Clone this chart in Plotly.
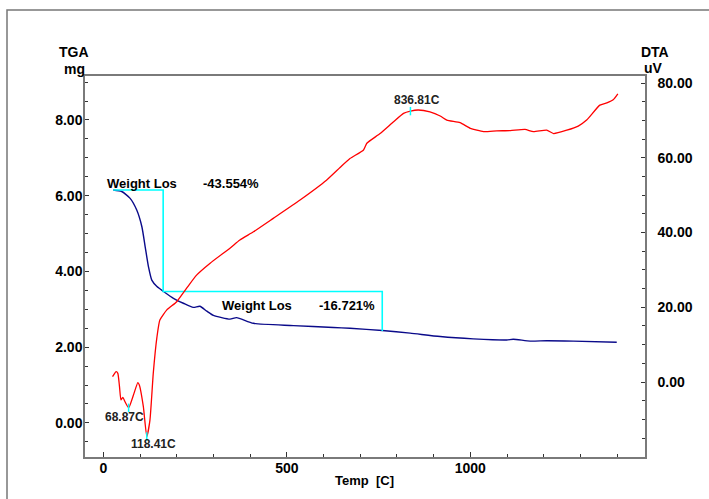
import plotly.graph_objects as go

# ---------------- data ----------------
tga_temp = [27, 50, 73, 91, 105, 114, 123, 132, 146, 164, 191, 218, 245, 263, 282, 300,
            345, 363, 409, 518, 627, 672, 760, 836, 918, 1008, 1099, 1117, 1163, 1208, 1281, 1399]
tga_mass = [6.15, 6.11, 5.93, 5.62, 5.18, 4.65, 4.12, 3.77, 3.60, 3.47, 3.29, 3.16, 3.05, 3.08, 2.95, 2.84,
            2.74, 2.78, 2.63, 2.57, 2.52, 2.50, 2.44, 2.37, 2.28, 2.22, 2.19, 2.21, 2.16, 2.17, 2.16, 2.13]

dta_temp = [25, 35, 39.5, 44, 48, 53, 59, 68.9, 82, 94, 98, 109, 118.4, 127, 136, 146, 154, 173, 200,
            227, 254, 291, 345, 372, 409, 463, 536, 608, 645, 672, 709, 718, 754, 790, 818, 836.8,
            858, 890, 918, 936, 972, 1000, 1036, 1072, 1109, 1149, 1172, 1208, 1227, 1263, 1294,
            1317, 1353, 1372, 1390, 1402]
dta_uv = [1.43, 2.77, 2.32, -1.25, -4.8, -4.1, -5.27, -6.9, -3.48, -0.17, -0.8, -6.6, -14.6, -10.2, 2.3,
          12.0, 16.6, 19.3, 21.5, 25.1, 28.6, 31.8, 35.8, 38.0, 40.2, 43.8, 48.7, 54.0, 57.4, 59.8,
          62.1, 63.9, 66.5, 69.6, 71.9, 72.5, 72.8, 72.3, 71.2, 70.1, 69.4, 67.9, 67.0, 67.2, 67.3,
          67.6, 67.0, 67.4, 66.5, 67.4, 68.5, 70.1, 74.1, 74.7, 75.6, 77.1]

# weight-loss step (temperature, mass)
step_temp = [27, 163, 163, 760, 760]
step_mass = [6.15, 6.15, 3.47, 3.47, 2.43]
loss_labels = ["-43.554%", "-16.721%"]

peak_temp = [68.87, 118.41, 836.81]
peak_uv = [-6.9, -14.6, 72.5]
peak_labels = ["68.87C", "118.41C", "836.81C"]

x_ticks = [0, 500, 1000]
tga_ticks = [0, 2, 4, 6, 8]
dta_ticks = [0, 20, 40, 60, 80]

# ---------------- layout helpers ----------------
W, H = 709, 499
L, R, T, B = 85, 645, 76, 457
pw, ph = R - L, B - T


def px(xp):
    return (xp - L) / pw


def py(yp):
    return (B - yp) / ph


FONT = "Liberation Sans, Arial, sans-serif"

fig = go.Figure()
fig.add_trace(go.Scatter(x=tga_temp, y=tga_mass, mode="lines",
                         line=dict(color="#0a0a8a", width=1.4, shape="spline", smoothing=0.6),
                         yaxis="y", hoverinfo="skip"))
fig.add_trace(go.Scatter(x=dta_temp, y=dta_uv, mode="lines",
                         line=dict(color="#ff0000", width=1.3, shape="spline", smoothing=0.5),
                         yaxis="y2", hoverinfo="skip"))
fig.add_trace(go.Scatter(x=step_temp, y=step_mass, mode="lines",
                         line=dict(color="#00ffff", width=1.6), yaxis="y", hoverinfo="skip"))
fig.add_trace(go.Scatter(x=peak_temp, y=peak_uv, mode="markers",
                         marker=dict(symbol="line-ns", size=6, line=dict(color="#00ffff", width=1.5)),
                         yaxis="y2", hoverinfo="skip"))

annos = []
bold = dict(family=FONT, size=13, color="black", weight="bold")
annos.append(dict(x=104, y=6.33, xref="x", yref="y", text="Weight Los", showarrow=False, font=bold))
annos.append(dict(x=348, y=6.33, xref="x", yref="y", text=loss_labels[0], showarrow=False, font=bold))
annos.append(dict(x=420, y=3.09, xref="x", yref="y", text="Weight Los", showarrow=False, font=bold))
annos.append(dict(x=665, y=3.09, xref="x", yref="y", text=loss_labels[1], showarrow=False, font=bold))

peak_font = dict(family=FONT, size=12, color="#222", weight="bold")
annos.append(dict(x=57, y=-9.4, xref="x", yref="y2", text=peak_labels[0], showarrow=False, font=peak_font))
annos.append(dict(x=137, y=-16.6, xref="x", yref="y2", text=peak_labels[1], showarrow=False, font=peak_font))
annos.append(dict(x=855, y=75.4, xref="x", yref="y2", text=peak_labels[2], showarrow=False, font=peak_font))

title_font = dict(family=FONT, size=14, color="black", weight="bold")


def paper_text(xp, yp, text, font):
    return dict(x=px(xp), y=py(yp), xref="paper", yref="paper", text=text, showarrow=False,
                xanchor="center", yanchor="middle", font=font)


annos.append(paper_text(74, 52, "TGA", title_font))
annos.append(paper_text(74, 69, "mg", title_font))
annos.append(paper_text(655, 52, "DTA", title_font))
annos.append(paper_text(653, 68, "uV", title_font))
annos.append(paper_text(364, 481, "Temp  [C]", dict(family=FONT, size=13, color="black", weight="bold")))

shapes = [dict(type="rect", xref="paper", yref="paper", x0=px(7), y0=py(10), x1=px(720), y1=py(520),
               line=dict(color="#777777", width=1.5), layer="below")]

tickfont = dict(family=FONT, size=14, color="black", weight="bold")
axcol = "#7a7a7a"

fig.update_layout(
    width=W, height=H,
    margin=dict(l=L, r=W - R, t=T, b=H - B),
    paper_bgcolor="white", plot_bgcolor="white",
    showlegend=False,
    annotations=annos, shapes=shapes,
    xaxis=dict(range=[-50, 1476], tickvals=x_ticks, ticks="inside", ticklen=5, tickcolor="#333",
               showline=True, linecolor=axcol, linewidth=1.5, mirror=True, showgrid=False, zeroline=False,
               tickfont=tickfont, ticklabelstandoff=-3,
               minor=dict(dtick=100, tick0=0, ticks="inside", ticklen=3, tickcolor="#333")),
    yaxis=dict(range=[-0.9, 9.16], tickvals=tga_ticks, tickformat=".2f", ticks="inside", ticklen=4,
               tickcolor="#333", showline=True, linecolor=axcol, linewidth=1.5, showgrid=False,
               zeroline=False, tickfont=tickfont, ticklabelstandoff=-2,
               minor=dict(dtick=0.5, tick0=0, ticks="inside", ticklen=3, tickcolor="#333")),
    yaxis2=dict(range=[-20.07, 81.9], tickvals=dta_ticks, tickformat=".2f", ticks="inside", ticklen=4,
                tickcolor="#333", overlaying="y", side="right", showline=True, linecolor=axcol,
                linewidth=1.5, showgrid=False, zeroline=False, tickfont=tickfont, ticklabelstandoff=8,
                minor=dict(dtick=5, tick0=0, ticks="inside", ticklen=3, tickcolor="#333")),
)

fig.write_html("out.html")
